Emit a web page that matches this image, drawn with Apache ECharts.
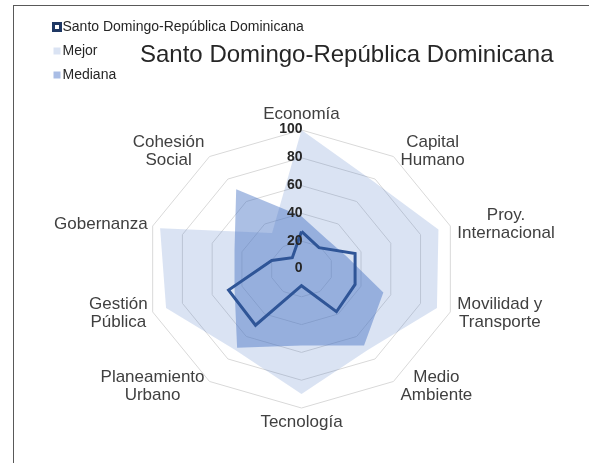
<!DOCTYPE html>
<html>
<head>
<meta charset="utf-8">
<script src="https://cdn.jsdelivr.net/npm/echarts@6/dist/echarts.min.js"></script>
<style>
  html, body { margin: 0; padding: 0; background: #fff; }
  #frame { position: absolute; left: 13px; top: 5px; width: 620px; height: 520px; border: 1px solid #595959; box-sizing: border-box; }
  #chart { position: absolute; left: 0; top: 0; width: 589px; height: 463px; }
</style>
</head>
<body>
<div id="frame"></div>
<div id="chart"></div>
<script>
// Radar categories, clockwise from the top
const indicators = ['Economía', 'Capital\nHumano', 'Proy.\nInternacional', 'Movilidad y\nTransporte', 'Medio\nAmbiente',
                    'Tecnología', 'Planeamiento\nUrbano', 'Gestión\nPública', 'Gobernanza', 'Cohesión\nSocial'];
const tickValues = [0, 20, 40, 60, 80, 100];
const santoDomingo = [27, 19, 36, 36, 38, 12, 50, 49, 20, 10];
const mejor = [100, 78, 92, 91, 72, 90, 72, 91, 95, 32];
const mediana = [38, 27, 30, 55, 68, 55, 70, 45, 45, 71];

const seriesNames = ['Santo Domingo-República Dominicana', 'Mejor', 'Mediana'];
const FONT = '"Liberation Sans", Arial, sans-serif';
const nameFont = '17px ' + FONT;

// value on spoke i -> [x, y] in the -100..100 plane (0 at top, clockwise)
function toXY(v, i) {
  const a = i * 2 * Math.PI / indicators.length;
  return [v * Math.sin(a), v * Math.cos(a)];
}

const measureCtx = document.createElement('canvas').getContext('2d');
function textWidth(str, font) {
  measureCtx.font = font;
  return measureCtx.measureText(str).width;
}

function areaSeries(name, values, color, z) {
  return {
    type: 'custom',
    name: name,
    coordinateSystem: 'cartesian2d',
    silent: true,
    z: z,
    itemStyle: { color: color },
    data: values.map((v, i) => toXY(v, i)),
    encode: { x: 0, y: 1 },
    renderItem: function (params, api) {
      if (params.dataIndex !== 0) return null;
      const pts = values.map((v, i) => api.coord(toXY(v, i)));
      return { type: 'polygon', shape: { points: pts }, style: { fill: color } };
    }
  };
}

const chart = echarts.init(document.getElementById('chart'), null, { renderer: 'canvas' });

chart.setOption({
  animation: false,
  backgroundColor: 'transparent',
  title: {
    text: 'Santo Domingo-República Dominicana',
    left: 135,
    top: 38,
    textStyle: { fontSize: 24, fontWeight: 'normal', color: '#262626', fontFamily: FONT }
  },
  legend: {
    orient: 'vertical',
    left: 47,
    top: 15,
    itemWidth: 7,
    itemHeight: 7,
    itemGap: 10,
    selectedMode: false,
    textStyle: { fontSize: 14, color: '#262626', fontFamily: FONT, padding: [0, 0, 0, -3] },
    data: [
      { name: seriesNames[0], icon: 'rect', itemStyle: { color: '#ffffff', borderColor: '#1f3864', borderWidth: 3 } },
      { name: seriesNames[1], icon: 'rect', itemStyle: { color: '#dae3f3', borderWidth: 0 } },
      { name: seriesNames[2], icon: 'rect', itemStyle: { color: '#a9bde5', borderWidth: 0 } }
    ]
  },
  grid: { left: 145, top: 130, width: 313, height: 278 },
  xAxis: { type: 'value', min: -100, max: 100, show: false },
  yAxis: { type: 'value', min: -100, max: 100, show: false },
  series: [
    // concentric decagon rings
    {
      type: 'custom',
      silent: true,
      z: 1,
      data: tickValues.filter(v => v > 0).map(v => [0, v]),
      encode: { x: 0, y: 1 },
      renderItem: function (params, api) {
        const v = api.value(1);
        const pts = indicators.map((_, i) => api.coord(toXY(v, i)));
        return { type: 'polygon', shape: { points: pts }, style: { fill: 'none', stroke: '#d9d9d9', lineWidth: 1 } };
      }
    },
    areaSeries(seriesNames[1], mejor, 'rgba(68,114,196,0.2)', 2),
    areaSeries(seriesNames[2], mediana, 'rgba(68,114,196,0.45)', 3),
    {
      type: 'line',
      name: seriesNames[0],
      silent: true,
      z: 4,
      symbol: 'none',
      data: santoDomingo.concat([santoDomingo[0]]).map((v, i) => toXY(v, i % indicators.length)),
      lineStyle: { color: '#2f5597', width: 3, join: 'miter' },
      itemStyle: { color: '#2f5597' }
    },
    // value labels along the top spoke
    {
      type: 'custom',
      silent: true,
      z: 6,
      data: tickValues.map(v => [0, v]),
      encode: { x: 0, y: 1 },
      renderItem: function (params, api) {
        const v = api.value(1);
        const p = api.coord([0, v]);
        return {
          type: 'text', x: p[0] + 1, y: p[1] - 0.5,
          style: { text: String(v), align: 'right', verticalAlign: 'middle', font: 'bold 14px ' + FONT, fill: '#262626' }
        };
      }
    },
    // category names around the outer ring
    {
      type: 'custom',
      silent: true,
      z: 6,
      data: indicators.map((_, i) => [0, 100]),
      encode: { x: 0, y: 1 },
      renderItem: function (params, api) {
        const i = params.dataIndex;
        const a = i * 2 * Math.PI / indicators.length;
        const s = Math.sin(a), c = Math.cos(a);
        const p = api.coord(toXY(100, i));
        const lines = indicators[i].split('\n');
        const w = Math.max.apply(null, lines.map(l => textWidth(l, nameFont)));
        const h = lines.length * 18;
        let x = p[0], y = p[1];
        if (s > 0.1) x += 7 + w / 2;
        else if (s < -0.1) x -= 5 + w / 2;
        if (c > 0.9) y -= 7 + h / 2;
        else if (c < -0.9) y += 5 + h / 2;
        else y -= 6 * c;
        return {
          type: 'text', x: x, y: y,
          style: { text: indicators[i], align: 'center', verticalAlign: 'middle', font: nameFont, lineHeight: 18, fill: '#404040' }
        };
      }
    }
  ]
});
</script>
</body>
</html>
